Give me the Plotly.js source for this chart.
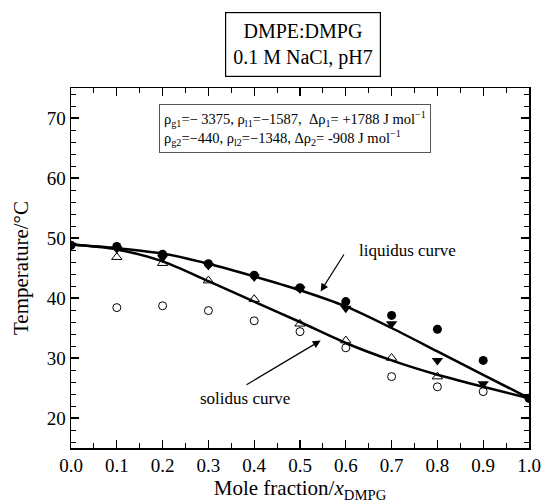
<!DOCTYPE html>
<html>
<head>
<meta charset="utf-8">
<script src="https://cdn.plot.ly/plotly-3.0.1.min.js"></script>
<style>
  html, body { margin: 0; padding: 0; background: #fff; }
  #chart { width: 542px; height: 504px; }
</style>
</head>
<body>
<div id="chart"></div>
<script>
// Composition (mole fraction of DMPG)
const xFrac = [0.0, 0.1, 0.2, 0.3, 0.4, 0.5, 0.6, 0.7, 0.8, 0.9, 1.0];

// Measured transition temperatures (°C)
const filledCircleT = [48.8, 48.6, 47.3, 45.7, 43.8, 41.7, 39.4, 37.1, 34.8, 29.6, 23.3];
const filledTriX    = [0.0, 0.1, 0.2, 0.3, 0.4, 0.5, 0.6, 0.7, 0.8, 0.9, 1.0];
const filledTriT    = [48.8, 48.2, 46.7, 45.4, 43.5, 41.5, 38.3, 35.7, 29.6, 25.7, 23.3];
const openTriX      = [0.1, 0.2, 0.3, 0.4, 0.5, 0.6, 0.7, 0.8];
const openTriT      = [46.8, 45.8, 42.9, 39.8, 35.7, 32.9, 30.0, 26.9];
const openCircleX   = [0.1, 0.2, 0.3, 0.4, 0.5, 0.6, 0.7, 0.8, 0.9];
const openCircleT   = [38.4, 38.7, 37.9, 36.2, 34.4, 31.7, 26.9, 25.2, 24.4];

// Fitted phase boundaries (°C)
const liquidusT = [48.9, 48.3, 47.4, 45.7, 43.6, 41.3, 38.6, 35.0, 31.1, 27.2, 23.3];
const solidusT  = [48.9, 48.1, 46.1, 42.8, 39.4, 36.0, 32.5, 29.6, 27.2, 25.2, 23.3];

const serif = '"Liberation Serif", "Times New Roman", Times, serif';

const traces = [
  { x: xFrac, y: liquidusT, mode: 'lines', line: { color: '#000', width: 2.5, shape: 'spline', smoothing: 0.8 }, hoverinfo: 'skip' },
  { x: xFrac, y: solidusT,  mode: 'lines', line: { color: '#000', width: 2.5, shape: 'spline', smoothing: 0.8 }, hoverinfo: 'skip' },
  { x: openCircleX, y: openCircleT, mode: 'markers',
    marker: { symbol: 'circle-open', size: 8, color: '#000', line: { width: 1, color: '#000' } } },
  { x: openTriX, y: openTriT, mode: 'markers',
    marker: { symbol: 'triangle-up-open', size: 9, color: '#000', line: { width: 1, color: '#000' } } },
  { x: filledTriX, y: filledTriT, mode: 'markers',
    marker: { symbol: 'triangle-down', size: 10, color: '#000' } },
  { x: xFrac, y: filledCircleT, mode: 'markers',
    marker: { symbol: 'circle', size: 9, color: '#000' } }
];

const axisCommon = {
  showline: true, linecolor: '#000', linewidth: 1.5, mirror: 'allticks',
  ticks: 'inside', ticklen: 8, tickwidth: 1.2, tickcolor: '#000',
  showgrid: false, zeroline: false,
  tickfont: { family: serif, size: 19, color: '#000' }
};

const layout = {
  width: 542, height: 504,
  margin: { l: 71, r: 13, t: 88, b: 56 },
  paper_bgcolor: '#fff', plot_bgcolor: '#fff',
  showlegend: false,
  font: { family: serif, color: '#000' },
  xaxis: Object.assign({}, axisCommon, {
    range: [0, 1], dtick: 0.1, tick0: 0, tickformat: '.1f',
    minor: { dtick: 0.05, ticks: 'inside', ticklen: 5, tickcolor: '#000', tickwidth: 1 },
    title: { text: 'Mole fraction/<i>x</i><sub>DMPG</sub>', font: { family: serif, size: 21, color: '#000' }, standoff: 4 }
  }),
  yaxis: Object.assign({}, axisCommon, {
    range: [15, 75], dtick: 10, tick0: 0,
    minor: { dtick: 2, ticks: 'inside', ticklen: 5, tickcolor: '#000', tickwidth: 1 },
    title: { text: 'Temperature/°C', font: { family: serif, size: 21, color: '#000' }, standoff: 12 }
  }),
  annotations: [
    { xref: 'paper', yref: 'paper', x: 0.507, y: 1.12, xanchor: 'center', yanchor: 'middle', showarrow: false,
      text: 'DMPE:DMPG<br>0.1 M NaCl, pH7', align: 'center',
      font: { family: serif, size: 20, color: '#000' },
      bordercolor: '#000', borderwidth: 1.2, borderpad: 7, bgcolor: '#fff' },
    { xref: 'paper', yref: 'paper', x: 0.488, y: 0.888, xanchor: 'center', yanchor: 'middle', showarrow: false, align: 'left',
      text: 'ρ<sub>g1</sub>=− 3375, ρ<sub>l1</sub>=−1587,  Δρ<sub>1</sub>= +1788 J mol<sup>−1</sup><br>ρ<sub>g2</sub>=−440, ρ<sub>l2</sub>=−1348, Δρ<sub>2</sub>= -908 J mol<sup>−1</sup>',
      font: { family: serif, size: 14.5, color: '#000' },
      bordercolor: '#555', borderwidth: 1, borderpad: 4, bgcolor: '#fff' },
    { x: 0.545, y: 41.1, ax: 0.598, ay: 47.5, axref: 'x', ayref: 'y', xref: 'x', yref: 'y',
      showarrow: true, arrowhead: 2, arrowsize: 1.3, arrowwidth: 1.2, arrowcolor: '#000', text: '' },
    { x: 0.545, y: 32.9, ax: 0.38, ay: 25.4, axref: 'x', ayref: 'y', xref: 'x', yref: 'y',
      showarrow: true, arrowhead: 2, arrowsize: 1.3, arrowwidth: 1.2, arrowcolor: '#000', text: '' },
    { x: 0.735, y: 48.0, xref: 'x', yref: 'y', showarrow: false, text: 'liquidus curve',
      font: { family: serif, size: 17, color: '#000' } },
    { x: 0.38, y: 23.3, xref: 'x', yref: 'y', showarrow: false, text: 'solidus curve',
      font: { family: serif, size: 17, color: '#000' } }
  ]
};

Plotly.newPlot('chart', traces, layout, { displayModeBar: false, staticPlot: true });
</script>
</body>
</html>
